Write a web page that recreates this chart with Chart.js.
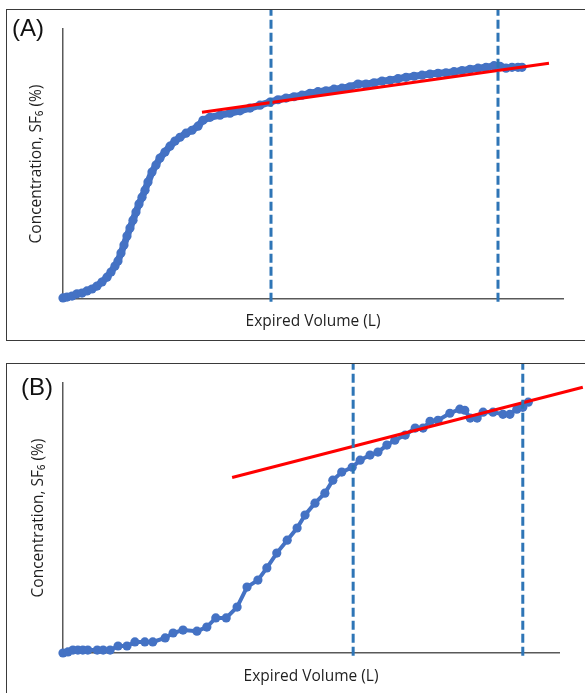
<!DOCTYPE html>
<html>
<head>
<meta charset="utf-8">
<script src="https://cdn.jsdelivr.net/npm/chart.js@4.4.1/dist/chart.umd.min.js"></script>
<style>
  body { margin: 0; background: #fff; }
  #page { position: relative; width: 585px; height: 693px; overflow: hidden; }
  .box { position: absolute; border: 1.5px solid #3a3a3a; }
  .tag { position: absolute; font-family: Arial, "Liberation Sans", sans-serif; font-size: 24px; line-height: 24px; color: #111; }
  canvas { position: absolute; left: 0; }
</style>
</head>
<body>
<div id="page">
  <div class="box" style="left:6px; top:9px; width:600px; height:330px;"></div>
  <div class="box" style="left:6px; top:363px; width:600px; height:400px;"></div>
  <canvas id="chartA" width="585" height="345" style="top:0;"></canvas>
  <canvas id="chartB" width="585" height="338" style="top:355px;"></canvas>
  <div class="tag" style="left:12px; top:16px;">(A)</div>
  <div class="tag" style="left:21px; top:375px;">(B)</div>
</div>
<script>
// panel A - expired volume (L) vs SF6 concentration (%)
const volumeA = [0.00, 0.08, 0.18, 0.28, 0.38, 0.48, 0.58, 0.68, 0.78, 0.88,
  0.96, 1.04, 1.10, 1.16, 1.22, 1.28, 1.34, 1.40, 1.46, 1.52,
  1.58, 1.64, 1.70, 1.78, 1.86, 1.94, 2.04, 2.14, 2.24, 2.34,
  2.46, 2.58, 2.70, 2.80, 2.94, 3.14, 3.34, 3.54, 3.74, 3.94,
  4.14, 4.30, 4.46, 4.62, 4.78, 4.94, 5.10, 5.26, 5.42, 5.58,
  5.74, 5.90, 6.06, 6.22, 6.38, 6.54, 6.70, 6.86, 7.02, 7.18,
  7.34, 7.50, 7.66, 7.82, 7.98, 8.14, 8.30, 8.46, 8.62, 8.74,
  8.86, 8.98, 9.10, 9.18];
const concA = [0.4, 0.7, 1.1, 1.9, 2.2, 3.0, 3.7, 4.8, 6.3, 8.1,
  10.0, 12.2, 14.1, 17.0, 20.0, 23.3, 26.3, 29.2, 32.2, 35.2,
  37.7, 40.3, 43.3, 47.0, 49.6, 52.2, 54.4, 56.6, 58.5, 59.9,
  61.4, 62.5, 64.0, 66.2, 67.3, 68.1, 68.8, 69.7, 70.7, 71.8,
  72.9, 73.8, 74.4, 74.9, 75.5, 76.2, 76.8, 77.1, 77.7, 78.1,
  78.6, 79.6, 79.6, 80.1, 80.7, 81.0, 81.6, 82.1, 82.5, 82.9,
  83.3, 83.6, 83.8, 84.2, 84.6, 85.1, 85.5, 85.8, 86.4, 86.2,
  85.5, 85.8, 85.8, 85.8];
const fitVolA = [2.78, 9.72];
const fitConcA = [69.2, 87.3];
const limitsA = [4.16, 8.70];

// panel B
const volumeB = [0.00, 0.10, 0.20, 0.30, 0.40, 0.50, 0.69, 0.81, 0.95, 1.11,
  1.29, 1.45, 1.65, 1.81, 2.06, 2.22, 2.42, 2.70, 2.90, 3.08,
  3.29, 3.51, 3.71, 3.93, 4.11, 4.31, 4.52, 4.72, 4.88, 5.08,
  5.28, 5.44, 5.62, 5.83, 5.99, 6.19, 6.35, 6.53, 6.69, 6.90,
  7.10, 7.26, 7.40, 7.56, 7.80, 8.00, 8.10, 8.21, 8.35, 8.47,
  8.67, 8.87, 9.01, 9.15, 9.27, 9.38];
const concB = [0.0, 0.4, 1.1, 1.1, 1.1, 1.1, 1.1, 1.1, 1.1, 2.6,
  2.6, 4.1, 4.1, 4.1, 5.6, 7.4, 8.5, 8.1, 9.6, 13.0,
  13.0, 17.0, 24.4, 27.0, 31.5, 37.0, 41.8, 46.3, 51.1, 55.5,
  59.2, 64.0, 67.0, 68.8, 71.4, 73.3, 74.4, 77.0, 78.8, 80.7,
  83.3, 83.3, 85.8, 86.2, 88.8, 90.3, 89.9, 87.0, 87.0, 89.2,
  89.2, 88.4, 88.4, 90.3, 91.0, 92.9];
const fitVolB = [3.41, 10.48];
const fitConcB = [65.0, 98.4];
const limitsB = [5.85, 9.27];

const BLUE = "#4472C4";
const DASH = "#2E75B6";
const RED = "#FF0000";
const AXIS = "#595959";
const FONT = "'Open Sans', 'Liberation Sans', sans-serif";

function pts(xs, ys) {
  return xs.map((x, i) => ({ x: x, y: ys[i] }));
}

function drawPanel(id, vol, conc, fitVol, fitConc, limits, pad, xPad, yPad, lineW, dotR) {
  const datasets = [];
  limits.forEach((v) => {
    datasets.push({
      data: [{ x: v, y: -1 }, { x: v, y: 107 }],
      showLine: true,
      borderColor: DASH,
      borderWidth: 3,
      borderDash: [9, 4],
      pointRadius: 0,
      clip: false,
    });
  });
  datasets.push({
    data: pts(fitVol, fitConc),
    showLine: true,
    borderColor: RED,
    borderWidth: 3,
    pointRadius: 0,
    clip: false,
  });
  datasets.push({
    data: pts(vol, conc),
    showLine: true,
    borderColor: BLUE,
    borderWidth: lineW,
    pointRadius: dotR,
    pointBackgroundColor: BLUE,
    pointBorderWidth: 0,
    clip: false,
  });

  new Chart(document.getElementById(id), {
    type: "scatter",
    data: { datasets: datasets },
    options: {
      responsive: false,
      animation: false,
      layout: { padding: pad },
      plugins: { legend: { display: false }, tooltip: { enabled: false } },
      scales: {
        x: {
          type: "linear",
          min: 0,
          max: 10,
          ticks: { display: false },
          grid: { display: true, drawOnChartArea: false, drawTicks: false, color: "transparent" },
          border: { display: true, color: AXIS, width: 1.5 },
          title: {
            display: true,
            text: "Expired Volume (L)",
            color: "#1f1f1f",
            font: { family: FONT, size: 15.5 },
            padding: { top: 0, bottom: xPad },
          },
          afterFit: (s) => { s.height = 40; },
        },
        y: {
          type: "linear",
          min: 0,
          max: 100,
          ticks: { display: false },
          grid: { display: true, drawOnChartArea: false, drawTicks: false, color: "transparent" },
          border: { display: true, color: AXIS, width: 1.5 },
          title: {
            display: true,
            text: "Concentration, SF₆ (%)",
            color: "#1f1f1f",
            font: { family: FONT, size: 15.5 },
            padding: { top: yPad, bottom: 0 },
          },
          afterFit: (s) => { s.width = 40; },
        },
      },
    },
  });
}

drawPanel("chartA", volumeA, concA, fitVolA, fitConcA, limitsA,
  { left: 23, top: 29, right: 22, bottom: 6 }, 7.7, 4.7, 7, 4.6);
drawPanel("chartB", volumeB, concB, fitVolB, fitConcB, limitsB,
  { left: 23, top: 28, right: 26, bottom: 0 }, 6.7, 6, 4, 4.6);
</script>
</body>
</html>
